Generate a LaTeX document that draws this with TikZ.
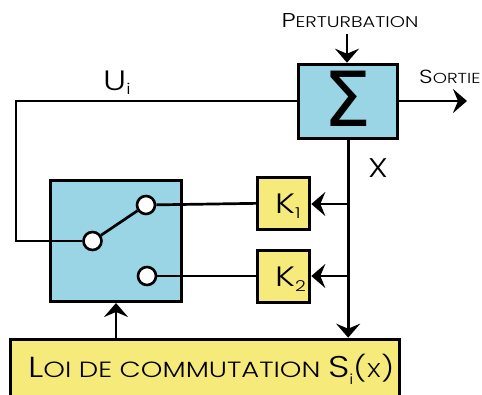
\documentclass[tikz,border=0pt]{standalone}
\usepackage{fontspec}
\setmainfont{Poppins}[UprightFont={* Light},FakeStretch=1.25]
\newfontfamily\sigmafont{DejaVu Sans}
\usetikzlibrary{arrows.meta}
\definecolor{boxblue}{HTML}{99D5E4}
\definecolor{boxyellow}{HTML}{F5EA7A}
\newcommand{\fs}[1]{\fontsize{#1}{#1}\selectfont}
\tikzset{
 x=1pt,y=-1pt,
 wire/.style={line width=2.7pt,line join=miter},
 arr/.style={wire,-{Stealth[length=14pt,width=24pt,inset=5pt]}},
 block/.style={draw=black,line width=3pt,inner sep=0pt,anchor=north west},
 bluebox/.style={block,fill=boxblue},
 yellowbox/.style={block,fill=boxyellow},
 terminal/.style={circle,draw=black,fill=white,line width=2.6pt,minimum size=18pt,inner sep=0pt},
 lab/.style={inner sep=0pt,text=black},
}
\begin{document}
\begin{tikzpicture}
\useasboundingbox (0,0) rectangle (482,394);
\clip (0,0) rectangle (482,394);
\node[bluebox,minimum width=98.7pt,minimum height=74.6pt] (sum) at (297.3,62.7) {};
\node[lab,font=\sigmafont\fs{76}] (sigma) at (348,99) {Σ};
\node[bluebox,minimum width=131pt,minimum height=121pt] (sw) at (49,179) {};
\node[yellowbox,minimum width=52.3pt,minimum height=51.7pt] (k1) at (256,176) {};
\node[yellowbox,minimum width=52.3pt,minimum height=51.7pt] (k2) at (256,249.3) {};
\node[yellowbox,minimum width=389pt,minimum height=80pt] (loi) at (9.3,337.7) {};
\node[lab,anchor=base west] at (275,213) {\fs{28}K\raisebox{-5pt}{\fs{15}1}};
\node[lab,anchor=base west] at (275,286) {\fs{28}K\raisebox{-5pt}{\fs{15}2}};
\node[lab,anchor=base west] (loit) at (28,377) {\fs{29}L\fs{22}OI DE COMMUTATION \fs{30}S\raisebox{-7pt}{\fs{14}i}\fs{25}(\fs{20}X\fs{25})};
\node[lab,anchor=base] at (350,27) {\fs{20}P\fs{15.5}ERTURBATION};
\node[lab,anchor=base west] at (419,83) {\fs{19}S\fs{14.5}ORTIE};
\node[lab,anchor=base west] at (103,90) {\fs{28}U\raisebox{-4pt}{\fs{15}i}};
\node[lab,anchor=base] at (378,177) {\fs{27}X};
\node[terminal] (a) at (92.5,241) {};
\node[terminal] (b) at (146,205) {};
\node[terminal] (c) at (147,276) {};
\coordinate (pin) at (347,34);
\coordinate (sout) at (467,101);
\coordinate (tl) at (16,101);
\coordinate (bl) at (16,241);
\coordinate (j1) at (348,204);
\coordinate (j2) at (348,276);
\coordinate (swin) at (116,338);
\draw[wire] (sum.west |- tl) -- (tl) -- (bl) -- (a);
\draw[wire] (a) -- (b);
\draw[wire] (b) -- (k1.west);
\draw[wire] (c) -- (c -| k2.west);
\draw[arr] (pin) -- (pin |- sum.north);
\draw[arr] (sum.east |- sout) -- (sout);
\draw[arr] (sum.south) -- (sum.south |- loi.north);
\draw[arr] (j1) -- (j1 -| k1.east);
\draw[arr] (j2) -- (j2 -| k2.east);
\draw[arr] (swin) -- (swin |- sw.south);
\end{tikzpicture}
\end{document}
